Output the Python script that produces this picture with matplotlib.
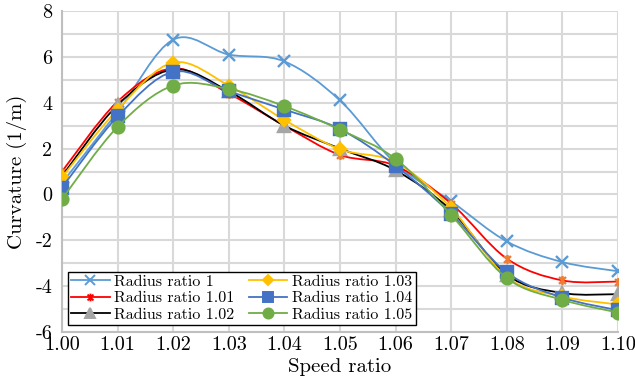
import numpy as np
import matplotlib
matplotlib.use("Agg")
import matplotlib.pyplot as plt
from matplotlib.path import Path
from matplotlib.patches import PathPatch
from matplotlib.ticker import MultipleLocator

plt.rcParams['font.family'] = ['cmr10', 'DejaVu Serif']
plt.rcParams['axes.unicode_minus'] = False
plt.rcParams['mathtext.fontset'] = 'cm'

# data
speed_ratio = [1.00, 1.01, 1.02, 1.03, 1.04, 1.05, 1.06, 1.07, 1.08, 1.09, 1.10]
r100 = [0.5, 3.6, 6.75, 6.1, 5.8, 4.1, 1.35, -0.3, -2.05, -2.95, -3.35]
r101 = [1.0, 4.05, 5.5, 4.4, 3.0, 1.72, 1.25, -0.4, -2.8, -3.75, -3.8]
r102 = [0.8, 3.9, 5.45, 4.5, 3.0, 2.0, 1.05, -0.7, -3.5, -4.3, -4.35]
r103 = [0.75, 3.7, 5.75, 4.75, 3.25, 1.97, 1.4, -0.6, -3.6, -4.45, -4.8]
r104 = [0.3, 3.4, 5.35, 4.5, 3.7, 2.85, 1.25, -0.85, -3.4, -4.5, -5.05]
r105 = [-0.2, 2.95, 4.75, 4.6, 3.85, 2.82, 1.55, -0.9, -3.65, -4.6, -5.15]

labels = ['Radius ratio 1', 'Radius ratio 1.01', 'Radius ratio 1.02',
          'Radius ratio 1.03', 'Radius ratio 1.04', 'Radius ratio 1.05']

# custom asterisk marker (x plus vertical bar)
star = Path([(-1, -1), (1, 1), (-1, 1), (1, -1), (0, -1.3), (0, 1.3)],
            [Path.MOVETO, Path.LINETO, Path.MOVETO, Path.LINETO, Path.MOVETO, Path.LINETO])


def smooth_path(x, y):
    # Excel-like smoothed line: cubic bezier through the points
    x = np.asarray(x); y = np.asarray(y)
    n = len(x)
    verts = [(x[0], y[0])]
    codes = [Path.MOVETO]
    for i in range(n - 1):
        i0 = max(i - 1, 0); i3 = min(i + 2, n - 1)
        c1 = (x[i] + (x[i + 1] - x[i0]) / 6, y[i] + (y[i + 1] - y[i0]) / 6)
        c2 = (x[i + 1] - (x[i3] - x[i]) / 6, y[i + 1] - (y[i3] - y[i]) / 6)
        verts += [c1, c2, (x[i + 1], y[i + 1])]
        codes += [Path.CURVE4] * 3
    return Path(verts, codes)


fig = plt.figure(figsize=(6.35, 3.78), dpi=100)
ax = fig.add_axes([62 / 635, 1 - 332 / 378, 556 / 635, 321 / 378])

series = [
    (r100, '#5B9BD5', 'x', '#5B9BD5', '#5B9BD5', 8),
    (r101, '#FF0000', star, '#ED7D31', '#ED7D31', 6.5),
    (r102, '#000000', '^', '#A5A5A5', '#A5A5A5', 8),
    (r103, '#FFC000', 'D', '#FFC000', '#FFC000', 6.5),
    (r104, '#4472C4', 's', '#4472C4', '#4472C4', 8),
    (r105, '#70AD47', 'o', '#70AD47', '#70AD47', 8.5),
]

handles = []
for k, (vals, lc, mk, mfc, mec, ms) in enumerate(series):
    patch = PathPatch(smooth_path(speed_ratio, vals), facecolor='none',
                      edgecolor=lc, lw=1.3, zorder=3 + 2 * k)
    ax.add_patch(patch)
    ax.plot(speed_ratio, vals, linestyle='none', marker=mk, ms=ms,
            mfc=mfc, mec=mec, mew=1.7, zorder=4 + 2 * k)
    legend_mc = '#FF0000' if k == 1 else mfc
    h, = ax.plot([], [], color=lc, lw=1.3, marker=mk, ms=ms * 0.85,
                 mfc=legend_mc, mec=legend_mc, mew=1.4)
    handles.append(h)

ax.set_xlim(1.00, 1.10)
ax.set_ylim(-6, 8)
ax.yaxis.set_major_locator(MultipleLocator(2))
ax.yaxis.set_minor_locator(MultipleLocator(1))
ax.set_xticks(speed_ratio)
ax.set_xticklabels(['%.2f' % v for v in speed_ratio])
ax.grid(True, which='both', color='#d9d9d9', lw=1.5, zorder=0)
ax.set_axisbelow(True)
ax.tick_params(which='both', length=0, labelsize=14.5)
ax.tick_params(axis='y', pad=7)
ax.tick_params(axis='x', pad=3)

for s in ['top', 'right']:
    ax.spines[s].set_visible(False)
for s in ['left', 'bottom']:
    ax.spines[s].set_color('#bfbfbf')
    ax.spines[s].set_linewidth(1.5)

ax.set_xlabel('Speed ratio', fontsize=15, labelpad=3)
ax.set_ylabel('Curvature (1/m)', fontsize=15, labelpad=6)

leg = ax.legend(handles, labels, ncol=2, loc='lower left',
                bbox_to_anchor=(0.011, 0.022), borderaxespad=0,
                fontsize=11.5, frameon=True, fancybox=False,
                edgecolor='black', framealpha=1, handlelength=2.4,
                columnspacing=0.9, labelspacing=0.14, borderpad=0.2,
                handletextpad=0.3)
leg.get_frame().set_linewidth(1.0)
leg.set_zorder(20)

fig.savefig('out.png', dpi=100)
